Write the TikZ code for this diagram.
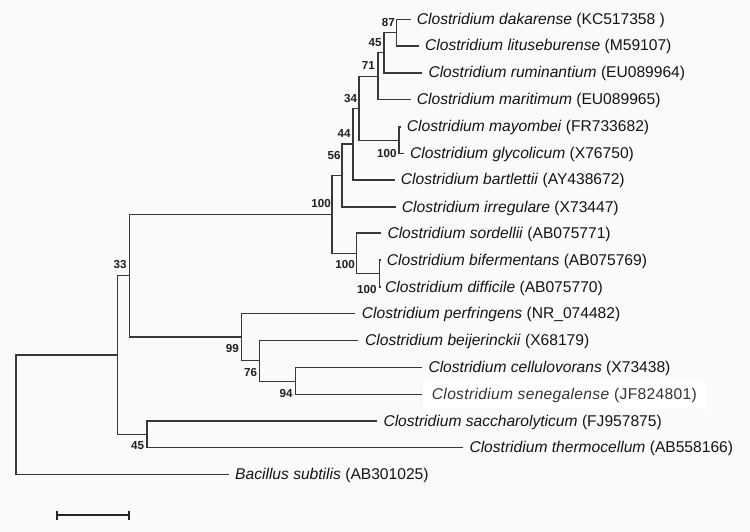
\documentclass[tikz,border=0pt]{standalone}
\usepackage{fontspec}
\setmainfont{Liberation Sans}
\begin{document}
\begin{tikzpicture}[x=1pt,y=-1pt,
  branch/.style={draw=black!78,line width=1.3pt},
  taxon/.style={anchor=base west,inner sep=0pt,text=black!92,font=\fontsize{15.6}{18}\selectfont},
  boot/.style={anchor=east,inner sep=0pt,text=black!88,font=\fontsize{11.6}{12}\selectfont\bfseries},
  scalebar/.style={draw=black!85,line width=2pt}]
\fill[black!2] (0,0) rectangle (750,532);
\useasboundingbox (0,0) rectangle (750,532);
\fill[white] (423,381) rectangle (706,409);
% internal nodes
\coordinate (n87) at (396.7,32.65);
\coordinate (n45) at (384,52.8);
\coordinate (n71) at (378,76.2);
\coordinate (n100c) at (399,140.25);
\coordinate (n34) at (359,108.2);
\coordinate (n44) at (353,144.1);
\coordinate (n56) at (342,175.6);
\coordinate (n100d) at (379.3,273.5);
\coordinate (n100b) at (356.7,253.25);
\coordinate (n100a) at (332,214.4);
\coordinate (n94) at (295.3,381.15);
\coordinate (n76) at (259.3,360.8);
\coordinate (n99) at (241.7,337.05);
\coordinate (n33) at (129.7,275.7);
\coordinate (n45b) at (147,434.25);
\coordinate (nB) at (117.7,355);
\coordinate (root) at (16,414.85);
% leaf ends
\coordinate (l1) at (410.7,19.3);
\coordinate (l2) at (419,46);
\coordinate (l3) at (422.3,73);
\coordinate (l4) at (410.7,99.5);
\coordinate (l5) at (401,127);
\coordinate (l6) at (404,153.5);
\coordinate (l7) at (394.5,180);
\coordinate (l8) at (395.5,207);
\coordinate (l9) at (381,233);
\coordinate (l10) at (381,260);
\coordinate (l11) at (380.5,287);
\coordinate (l12) at (355,313.3);
\coordinate (l13) at (358.3,340.5);
\coordinate (l14) at (421.7,367.8);
\coordinate (l15) at (421.7,394.5);
\coordinate (l16) at (377,421);
\coordinate (l17) at (463,447.5);
\coordinate (l18) at (229,474.7);
% branches
\draw[branch] (root) |- (nB);
\draw[branch] (root) |- (l18);
\draw[branch] (nB) |- (n33);
\draw[branch] (nB) |- (n45b);
\draw[branch] (n33) |- (n100a);
\draw[branch] (n33) |- (n99);
\draw[branch] (n100a) |- (n56);
\draw[branch] (n100a) |- (n100b);
\draw[branch] (n56) |- (n44);
\draw[branch] (n56) |- (l8);
\draw[branch] (n44) |- (n34);
\draw[branch] (n44) |- (l7);
\draw[branch] (n34) |- (n71);
\draw[branch] (n34) |- (n100c);
\draw[branch] (n71) |- (n45);
\draw[branch] (n71) |- (l4);
\draw[branch] (n45) |- (n87);
\draw[branch] (n45) |- (l3);
\draw[branch] (n87) |- (l1);
\draw[branch] (n87) |- (l2);
\draw[branch] (n100c) |- (l5);
\draw[branch] (n100c) |- (l6);
\draw[branch] (n100b) |- (l9);
\draw[branch] (n100b) |- (n100d);
\draw[branch] (n100d) |- (l10);
\draw[branch] (n100d) |- (l11);
\draw[branch] (n99) |- (l12);
\draw[branch] (n99) |- (n76);
\draw[branch] (n76) |- (l13);
\draw[branch] (n76) |- (n94);
\draw[branch] (n94) |- (l14);
\draw[branch] (n94) |- (l15);
\draw[branch] (n45b) |- (l16);
\draw[branch] (n45b) |- (l17);
% taxa
\node[taxon] (t1) at (416.7,24.3) {\textit{Clostridium dakarense} (KC517358 )};
\node[taxon] (t2) at (425,51) {\textit{Clostridium lituseburense} (M59107)};
\node[taxon] (t3) at (428.3,78) {\textit{Clostridium ruminantium} (EU089964)};
\node[taxon] (t4) at (416.7,104.5) {\textit{Clostridium maritimum} (EU089965)};
\node[taxon] (t5) at (406.7,132) {\textit{Clostridium mayombei} (FR733682)};
\node[taxon] (t6) at (410,158.5) {\textit{Clostridium glycolicum} (X76750)};
\node[taxon] (t7) at (400.7,185) {\textit{Clostridium bartlettii} (AY438672)};
\node[taxon] (t8) at (401.7,212) {\textit{Clostridium irregulare} (X73447)};
\node[taxon] (t9) at (387.3,238) {\textit{Clostridium sordellii} (AB075771)};
\node[taxon] (t10) at (386.7,265) {\textit{Clostridium bifermentans} (AB075769)};
\node[taxon] (t11) at (385,292) {\textit{Clostridium difficile} (AB075770)};
\node[taxon] (t12) at (361.7,318.3) {\textit{Clostridium perfringens} (NR\_074482)};
\node[taxon] (t13) at (365,345.5) {\textit{Clostridium beijerinckii} (X68179)};
\node[taxon] (t14) at (428.3,372.8) {\textit{Clostridium cellulovorans} (X73438)};
\node[taxon,text=black!80,font=\fontsize{15.6}{18}\selectfont\addfontfeature{LetterSpace=2}] (t15) at (431.7,399.5) {\textit{Clostridium senegalense} (JF824801)};
\node[taxon] (t16) at (383.3,426) {\textit{Clostridium saccharolyticum} (FJ957875)};
\node[taxon] (t17) at (469.3,452.5) {\textit{Clostridium thermocellum} (AB558166)};
\node[taxon] (t18) at (235,479.7) {\textit{Bacillus subtilis} (AB301025)};
% bootstrap values
\node[boot] (b87) at (395,22.7) {87};
\node[boot] (b45) at (381.7,42.7) {45};
\node[boot] (b71) at (375,66) {71};
\node[boot] (b34) at (357.3,98.3) {34};
\node[boot] (b44) at (350.7,134) {44};
\node[boot] (b56) at (340.7,155.7) {56};
\node[boot] (b100c) at (396.7,153.3) {100};
\node[boot] (b100a) at (331,204) {100};
\node[boot] (b100b) at (355,265) {100};
\node[boot] (b100d) at (376.7,290) {100};
\node[boot] (b33) at (126.7,265) {33};
\node[boot] (b99) at (239,349) {99};
\node[boot] (b76) at (257.3,372.3) {76};
\node[boot] (b94) at (292.7,393.3) {94};
\node[boot] (b45b) at (144.3,445.7) {45};
% scale bar
\coordinate (sa) at (56.7,515);
\coordinate (sb) at (129.3,515);
\draw[scalebar] (sa) -- (sb);
\draw[scalebar] ([yshift=4.5pt]sa) -- ([yshift=-4.5pt]sa);
\draw[scalebar] ([yshift=4.5pt]sb) -- ([yshift=-4.5pt]sb);
\end{tikzpicture}
\end{document}
